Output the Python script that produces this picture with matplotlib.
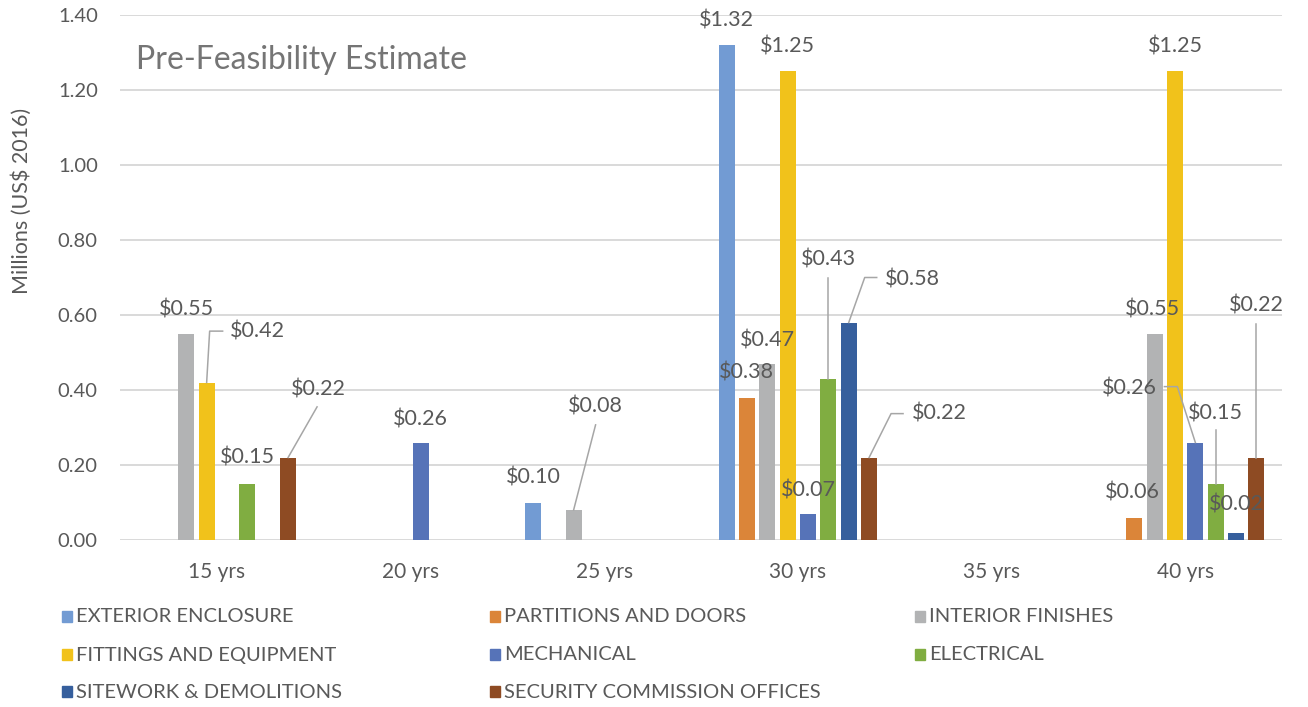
import numpy as np
import matplotlib
matplotlib.use("Agg")
import matplotlib.pyplot as plt
from matplotlib.patches import Rectangle

# ---- data -------------------------------------------------------------
categories = ["15 yrs", "20 yrs", "25 yrs", "30 yrs", "35 yrs", "40 yrs"]
series_names = [
    "EXTERIOR ENCLOSURE", "PARTITIONS AND DOORS", "INTERIOR FINISHES",
    "FITTINGS AND EQUIPMENT", "MECHANICAL", "ELECTRICAL",
    "SITEWORK & DEMOLITIONS", "SECURITY COMMISSION OFFICES",
]
nan = np.nan
exterior_enclosure = [nan, nan, 0.10, 1.32, nan, nan]
partitions_doors = [nan, nan, nan, 0.38, nan, 0.06]
interior_finishes = [0.55, nan, 0.08, 0.47, nan, 0.55]
fittings_equipment = [0.42, nan, nan, 1.25, nan, 1.25]
mechanical = [nan, 0.26, nan, 0.07, nan, 0.26]
electrical = [0.15, nan, nan, 0.43, nan, 0.15]
sitework_demolitions = [nan, nan, nan, 0.58, nan, 0.02]
security_offices = [0.22, nan, nan, 0.22, nan, 0.22]

series_values = [
    exterior_enclosure, partitions_doors, interior_finishes, fittings_equipment,
    mechanical, electrical, sitework_demolitions, security_offices,
]
colors = ["#729BD3", "#DB8539", "#B2B3B4", "#F1C21B",
          "#5673B8", "#80AD41", "#365F9D", "#8E4B23"]

# ---- layout -----------------------------------------------------------
W, H = 1308, 707
CAT_PX = 194.0          # width of one category in pixels
STEP = 20.4 / CAT_PX    # distance between neighbouring bars
BAR_W = 16.0 / CAT_PX

# label placement: (series, category) -> (x shift in px, label height, leader path)
# leader path points are (x shift in px, height), starting after the bar top
label_layout = {
    (2, 0): (0, 0.614, None),
    (3, 0): (51, 0.557, [(3, 0.557), (16, 0.557)]),
    (5, 0): (0, 0.220, None),
    (7, 0): (30, 0.401, [(29, 0.355)]),
    (4, 1): (0, 0.321, None),
    (0, 2): (0, 0.168, None),
    (2, 2): (22, 0.355, [(22, 0.307)]),
    (0, 3): (0, 1.386, None),
    (1, 3): (0, 0.447, None),
    (2, 3): (0, 0.533, None),
    (3, 3): (0, 1.317, None),
    (4, 3): (0, 0.132, None),
    (5, 3): (0, 0.748, [(0, 0.700)]),
    (6, 3): (64, 0.696, [(16, 0.700), (28, 0.700)]),
    (7, 3): (70, 0.337, [(22, 0.337), (34, 0.337)]),
    (1, 5): (-2, 0.127, None),
    (2, 5): (-2, 0.614, None),
    (3, 5): (0, 1.317, None),
    (4, 5): (-66, 0.404, [(-18, 0.409), (-31, 0.409)]),
    (5, 5): (0, 0.337, [(0, 0.294)]),
    (6, 5): (0, 0.094, None),
    (7, 5): (0, 0.624, [(0, 0.576)]),
}

FONT = "Lato"
TEXT = "#595959"

fig = plt.figure(figsize=(W / 100, H / 100), dpi=100)
ax = fig.add_axes([120 / W, 1 - 540 / H, 1162 / W, 525 / H])

x = np.arange(len(categories))
for i, (vals, col) in enumerate(zip(series_values, colors)):
    vals = np.asarray(vals, dtype=float)
    ok = np.isfinite(vals)
    xpos = x + (i - 3.5) * STEP
    ax.bar(xpos[ok], vals[ok], width=BAR_W, color=col, zorder=2)
    for k in np.where(ok)[0]:
        v = vals[k]
        dx, ly, leader = label_layout[(i, k)]
        bx = xpos[k]
        ax.text(bx + dx / CAT_PX, ly, f"${v:.2f}", ha="center", va="center",
                fontsize=15.5, color=TEXT, family=FONT, zorder=4)
        if leader:
            px = [bx] + [bx + p[0] / CAT_PX for p in leader]
            py = [v] + [p[1] for p in leader]
            ax.plot(px, py, color="#A6A6A6", lw=1.1, zorder=3)

ax.set_xlim(-0.5, len(categories) - 0.5)
ax.set_ylim(0, 1.4)
ax.set_yticks(np.arange(0, 1.41, 0.2))
ax.set_yticklabels([f"{t:.2f}" for t in np.arange(0, 1.41, 0.2)])
ax.set_xticks(x)
ax.set_xticklabels(categories)
ax.yaxis.grid(True, color="#D9D9D9", lw=1.4)
ax.set_axisbelow(True)
for s in ax.spines.values():
    s.set_visible(False)
ax.tick_params(axis="both", length=0, colors=TEXT)
ax.tick_params(axis="y", pad=16, labelsize=14.5)
ax.tick_params(axis="x", pad=16, labelsize=15)
for lab in ax.get_xticklabels() + ax.get_yticklabels():
    lab.set_family(FONT)

fig.text(136 / W, 1 - 60 / H, "Pre-Feasibility Estimate", ha="left", va="center",
         fontsize=23, color="#757575", family=FONT)
fig.text(22 / W, 1 - 201 / H, "Millions (US$ 2016)", rotation=90, ha="center",
         va="center", fontsize=15.5, color=TEXT, family=FONT)

# legend, three columns filled row by row
col_x = [62, 490, 915]
row_y = [617, 655, 692]
for n, (name, col) in enumerate(zip(series_names, colors)):
    r, c = divmod(n, 3)
    fig.add_artist(Rectangle(((col_x[c]) / W, 1 - (row_y[r] + 5) / H),
                             10 / W, 11 / H, color=col, transform=fig.transFigure))
    fig.text((col_x[c] + 14) / W, 1 - row_y[r] / H, name, ha="left", va="center",
             fontsize=14.5, color=TEXT, family=FONT)

fig.savefig("out.png", dpi=100, facecolor="white")
